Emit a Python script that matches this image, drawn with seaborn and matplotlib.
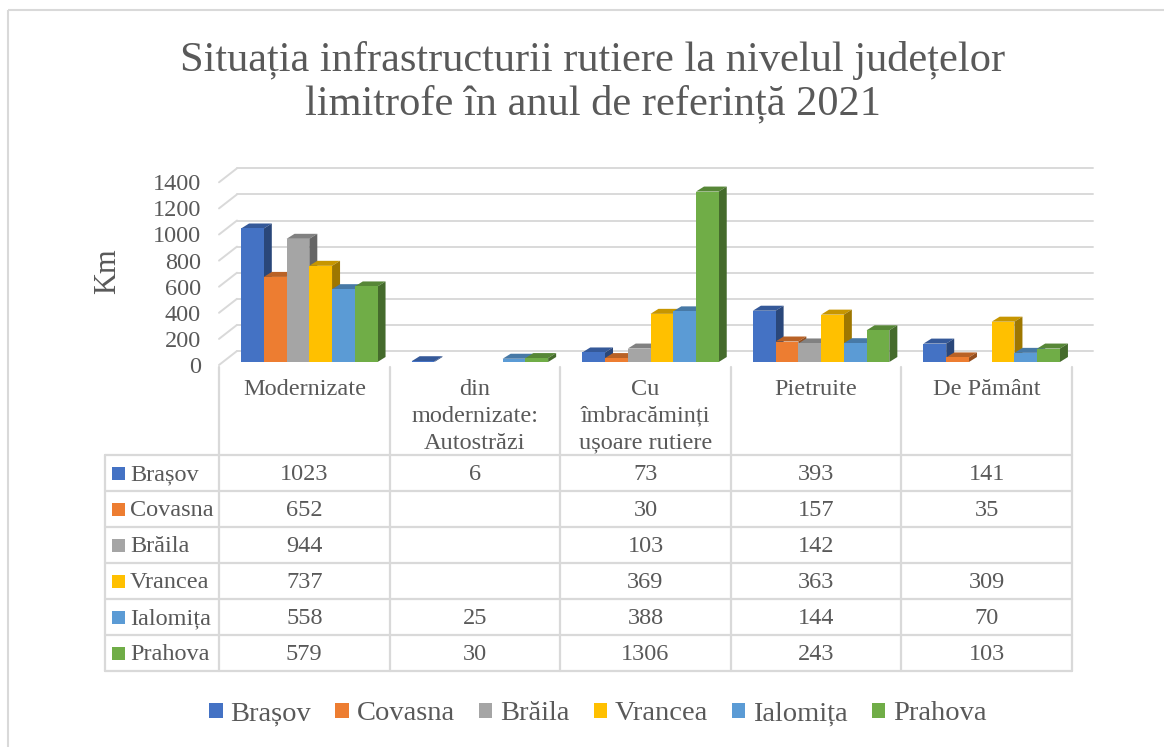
import numpy as np
import pandas as pd
import matplotlib
matplotlib.use("Agg")
import matplotlib.pyplot as plt
from matplotlib.patches import Polygon, Rectangle
from matplotlib.lines import Line2D
import seaborn as sns

# ---- data (km of county roads, 2021) ----
categories = ["Modernizate", "din modernizate: Autostrăzi",
              "Cu îmbracăminți ușoare rutiere", "Pietruite", "De Pământ"]
category_labels = ["Modernizate", "din\nmodernizate:\nAutostrăzi",
                   "Cu\nîmbracăminți\nușoare rutiere", "Pietruite", "De Pământ"]
judete = ["Brașov", "Covasna", "Brăila", "Vrancea", "Ialomița", "Prahova"]
brasov = [1023, 6, 73, 393, 141]
covasna = [652, None, 30, 157, 35]
braila = [944, None, 103, 142, None]
vrancea = [737, None, 369, 363, 309]
ialomita = [558, 25, 388, 144, 70]
prahova = [579, 30, 1306, 243, 103]
y_ticks = [0, 200, 400, 600, 800, 1000, 1200, 1400]
colors = ["#4472C4", "#ED7D31", "#A5A5A5", "#FFC000", "#5B9BD5", "#70AD47"]

series = [brasov, covasna, braila, vrancea, ialomita, prahova]
rows = []
for name, vals in zip(judete, series):
    for cat, v in zip(categories, vals):
        rows.append({"categorie": cat, "judet": name, "km": v})
df = pd.DataFrame(rows)
df_bars = df.dropna(subset=["km"])

# ---- styling ----
sns.set_style("white")
plt.rcParams["font.family"] = ["Liberation Serif", "DejaVu Serif"]
TXT = "#595959"
GRID = "#D9D9D9"

W, H = 1164, 747
fig = plt.figure(figsize=(W / 100, H / 100), dpi=100)
fig.patch.set_facecolor("white")

# pixel layout of the front plane of the plot
X_LEFT, X_RIGHT = 219, 1072
Y_ZERO = 365
PX_PER_KM = 0.1305
Y_TOP = Y_ZERO - y_ticks[-1] * PX_PER_KM

# overlay in pixel units for the frame and data table
tab = fig.add_axes([0, 0, 1, 1])
tab.set_xlim(0, W)
tab.set_ylim(H, 0)
tab.axis("off")
tab.set_zorder(0)

ax = fig.add_axes([X_LEFT / W, 1 - Y_ZERO / H,
                   (X_RIGHT - X_LEFT) / W, (Y_ZERO - Y_TOP) / H])
ax.set_zorder(1)
ax.patch.set_alpha(0)

sns.barplot(data=df_bars, x="categorie", y="km", hue="judet",
            order=categories, hue_order=judete, palette=colors,
            saturation=1, errorbar=None, width=0.8, gap=0,
            linewidth=0, legend=False, ax=ax)

ax.set_xlim(-0.5, len(categories) - 0.5)
ax.set_ylim(0, y_ticks[-1])
for s in ax.spines.values():
    s.set_visible(False)
ax.set_xticks([])
ax.set_xlabel("")
ax.set_ylabel("")
ax.set_yticks(y_ticks)
ax.set_yticklabels([str(t) for t in y_ticks])
ax.tick_params(axis="y", length=0, pad=13, labelsize=17.5, labelcolor=TXT)

# pixel -> data conversion factors
sx = (X_RIGHT - X_LEFT) / len(categories)
sy = PX_PER_KM

# back wall gridlines and left side wall
WALL_DX, WALL_DY = 18, 14
for v in y_ticks:
    ax.add_line(Line2D([-0.5 + WALL_DX / sx, len(categories) - 0.5 + 21 / sx],
                       [v + WALL_DY / sy] * 2, color=GRID, lw=1.4,
                       zorder=0.5, clip_on=False))
    ax.add_line(Line2D([-0.5, -0.5 + WALL_DX / sx],
                       [v, v + WALL_DY / sy], color=GRID, lw=1.4,
                       zorder=0.5, clip_on=False))


def shade(c, f):
    r, g, b = matplotlib.colors.to_rgb(c)
    return (r * f, g * f, b * f)


# 3D extrusion of each bar
FRONT_DX, FRONT_DY = 5, 3
DEPTH_DX, DEPTH_DY = 8, 5
bars = [p for p in ax.patches if np.isfinite(p.get_height())]
bars.sort(key=lambda p: p.get_x())
fdx, fdy = FRONT_DX / sx, FRONT_DY / sy
ddx, ddy = DEPTH_DX / sx, DEPTH_DY / sy
for i, p in enumerate(bars):
    z = 2 + i * 0.01
    x0 = p.get_x() + fdx
    w = p.get_width()
    h = p.get_height()
    y0 = fdy
    p.set_x(x0)
    p.set_y(y0)
    p.set_zorder(z + 0.005)
    p.set_clip_on(False)
    col = p.get_facecolor()
    top = Polygon([(x0, y0 + h), (x0 + w, y0 + h),
                   (x0 + w + ddx, y0 + h + ddy), (x0 + ddx, y0 + h + ddy)],
                  closed=True, facecolor=shade(col, 0.78), edgecolor="none",
                  zorder=z, clip_on=False)
    side = Polygon([(x0 + w, y0), (x0 + w + ddx, y0 + ddy),
                    (x0 + w + ddx, y0 + h + ddy), (x0 + w, y0 + h)],
                   closed=True, facecolor=shade(col, 0.62), edgecolor="none",
                   zorder=z, clip_on=False)
    ax.add_patch(top)
    ax.add_patch(side)

# ---- title and axis label ----
fig.text(593 / W, 1 - 61 / H, "Situația infrastructurii rutiere la nivelul județelor",
         ha="center", va="center", fontsize=30.5, color=TXT)
fig.text(593 / W, 1 - 104 / H, "limitrofe în anul de referință 2021",
         ha="center", va="center", fontsize=30.5, color=TXT)
fig.text(108 / W, 1 - 271 / H, "Km", rotation=90, ha="center", va="center",
         fontsize=22, color=TXT)

# ---- data table below the chart ----
tab.add_patch(Rectangle((8, 10), 1300, 900, fill=False, ec=GRID, lw=1.5))
col_edges = [X_LEFT + i * sx for i in range(len(categories) + 1)]
col_centers = [X_LEFT + (i + 0.5) * sx for i in range(len(categories))]
TABLE_LEFT = 105
HEADER_TOP = 367
ROW_TOP = 455
ROW_H = 36
row_lines = [ROW_TOP + k * ROW_H for k in range(len(judete) + 1)]
for xe in col_edges:
    tab.plot([xe, xe], [HEADER_TOP, row_lines[-1]], color=GRID, lw=1.6)
tab.plot([TABLE_LEFT, TABLE_LEFT], [ROW_TOP, row_lines[-1]], color=GRID, lw=1.6)
for yl in row_lines:
    tab.plot([TABLE_LEFT, col_edges[-1]], [yl, yl], color=GRID, lw=1.6)

for xc, lab in zip(col_centers, category_labels):
    tab.text(xc, 379, lab, ha="center", va="top", multialignment="center",
             fontsize=17.5, color=TXT, linespacing=1.36)

for k, (name, vals, c) in enumerate(zip(judete, series, colors)):
    yc = ROW_TOP + (k + 0.5) * ROW_H
    tab.add_patch(Rectangle((112, yc - 6.5), 13, 13, facecolor=c, edgecolor="none"))
    tab.text(130, yc + 2, name, ha="left", va="center", fontsize=17.5, color=TXT)
    for xc, v in zip(col_centers, vals):
        if v is not None:
            tab.text(xc, yc + 2, str(v), ha="center", va="center",
                     fontsize=17.5, color=TXT)

# ---- legend ----
handles = [Rectangle((0, 0), 1, 1, facecolor=c, edgecolor="none") for c in colors]
fig.legend(handles, judete, loc="center", bbox_to_anchor=(598 / W, 1 - 714 / H),
           ncol=len(judete), frameon=False, fontsize=20.5, labelcolor=TXT,
           handlelength=0.46, handleheight=0.46, handletextpad=0.28,
           columnspacing=0.85)

fig.savefig("out.png", dpi=100)
